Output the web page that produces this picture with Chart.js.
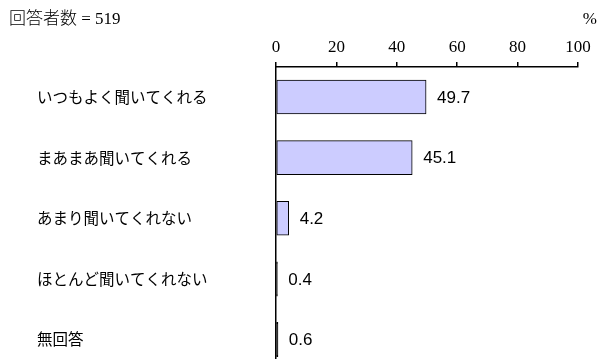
<!DOCTYPE html>
<html lang="ja">
<head>
<meta charset="utf-8">
<script src="https://cdn.jsdelivr.net/npm/chart.js@4.4.1/dist/chart.umd.min.js"></script>
<style>
    html, body { margin: 0; padding: 0; background: #fff; }
    #wrap { width: 606px; height: 360px; position: relative; }
</style>
</head>
<body>
<div id="wrap"><canvas id="answerChart"></canvas></div>
<script>
// 回答の項目
const categories = ['いつもよく聞いてくれる', 'まあまあ聞いてくれる', 'あまり聞いてくれない', 'ほとんど聞いてくれない', '無回答'];
// 割合 (%)
const percents = [49.7, 45.1, 4.2, 0.4, 0.6];
// 横軸の目盛り
const xTicks = [0, 20, 40, 60, 80, 100];
const respondents = 519;

const serifFont = '"Liberation Serif", "Noto Sans CJK JP", serif';
const sansFont = '"Liberation Sans", Arial, sans-serif';
const jpFont = '"Noto Sans CJK JP", sans-serif';

// 数値ラベルと見出しを描く
const annotatePlugin = {
    id: 'annotate',
    afterDatasetsDraw(chart) {
        const ctx = chart.ctx;
        ctx.save();
        ctx.fillStyle = '#000';
        ctx.textBaseline = 'middle';
        ctx.textAlign = 'left';
        ctx.font = '17px ' + sansFont;
        chart.getDatasetMeta(0).data.forEach((bar, i) => {
            ctx.fillText(percents[i].toFixed(1), bar.x + 11, bar.y + 1);
        });
        ctx.font = '300 17px ' + serifFont;
        ctx.fillText('回答者数 = ' + respondents, 9, 20);
        ctx.textAlign = 'right';
        ctx.fillText('%', 597, 20);
        ctx.restore();
    }
};

// 1%未満の棒は枠線だけの黒い線に見える
const isThin = ctx => percents[ctx.dataIndex] < 1;

const answerChart = new Chart(document.getElementById('answerChart'), {
    type: 'bar',
    data: {
        datasets: [{
            data: percents.map((v, i) => ({ x: v, y: i })),
            backgroundColor: ctx => isThin(ctx) ? '#000' : '#ccccff',
            borderColor: '#000',
            borderWidth: 1,
            borderSkipped: false,
            inflateAmount: ctx => isThin(ctx) ? 0.5 : 'auto',
            barThickness: 34
        }]
    },
    options: {
        indexAxis: 'y',
        responsive: true,
        maintainAspectRatio: false,
        animation: false,
        devicePixelRatio: 1,
        layout: {
            padding: { left: 37, right: 28, top: 0, bottom: 2 }
        },
        plugins: {
            legend: { display: false },
            tooltip: { enabled: false },
            title: { display: false }
        },
        scales: {
            x: {
                type: 'linear',
                position: 'top',
                min: 0,
                max: 100,
                afterBuildTicks: scale => { scale.ticks = xTicks.map(v => ({ value: v })); },
                afterFit: scale => { scale.height = 67; },
                ticks: {
                    color: '#000',
                    padding: 4,
                    font: { family: serifFont, size: 17 }
                },
                grid: {
                    drawOnChartArea: false,
                    tickLength: 5,
                    color: '#000',
                    lineWidth: 1.5
                },
                border: { color: '#000', width: 1.5 }
            },
            y: {
                type: 'linear',
                reverse: true,
                offset: false,
                min: -0.495,
                max: 4.305,
                afterBuildTicks: scale => { scale.ticks = categories.map((c, i) => ({ value: i })); },
                afterFit: scale => {
                    scale.width = 239;
                    // 端のラベル分の余白は不要
                    scale.paddingTop = 0;
                    scale.paddingBottom = 0;
                },
                ticks: {
                    crossAlign: 'far',
                    autoSkip: false,
                    color: '#000',
                    font: { family: jpFont, size: 15.5 },
                    callback: function(value) {
                        return categories[value];
                    }
                },
                grid: { display: false, offset: false },
                border: { color: '#000', width: 1.5 }
            }
        }
    },
    plugins: [annotatePlugin]
});
</script>
</body>
</html>
